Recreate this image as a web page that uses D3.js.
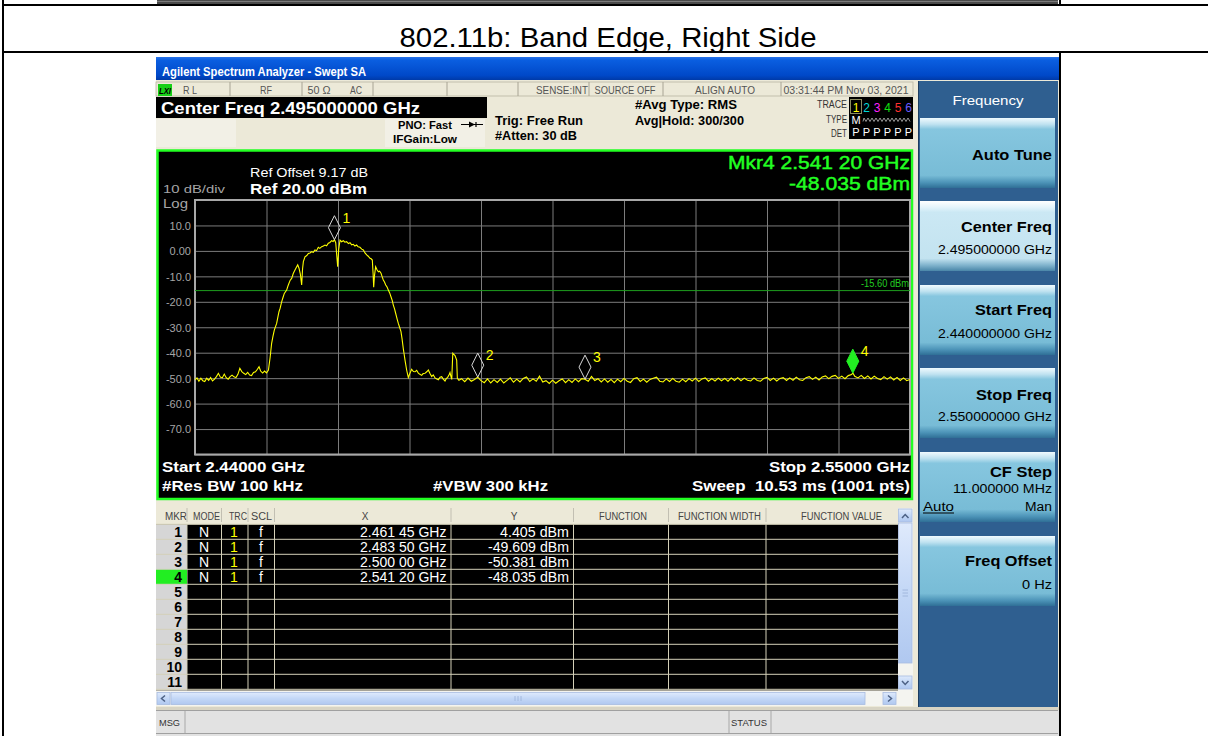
<!DOCTYPE html>
<html><head><meta charset="utf-8">
<script src="https://cdn.jsdelivr.net/npm/d3@7"></script>
<style>html,body{margin:0;padding:0;background:#fff;overflow:hidden}svg{display:block}text{white-space:pre}</style>
</head><body><svg id="c" width="1208" height="736"></svg>
<script>
// ---------------- DATA ----------------
const pageTitle = "802.11b: Band Edge, Right Side";
const windowTitle = "Agilent Spectrum Analyzer - Swept SA";
const centerFreqText = "Center Freq 2.495000000 GHz";
const freqStartMHz = 2440, freqStopMHz = 2550, freqDivMHz = 11;
const refLevel = 20, bottomLevel = -80, dbPerDiv = 10;
const yTickValues = [10, 0, -10, -20, -30, -40, -50, -60, -70];
const yTickLabels = ["10.0", "0.00", "-10.0", "-20.0", "-30.0", "-40.0", "-50.0", "-60.0", "-70.0"];
const displayLine = -15.60;
const displayLineLabel = "-15.60 dBm";
const markerIds = [1, 2, 3, 4];
const markerFreqMHz = [2461.45, 2483.50, 2500.00, 2541.20];
const markerLevel = [4.405, -49.609, -50.381, -48.035];
const markerXLabels = ["2.461 45 GHz", "2.483 50 GHz", "2.500 00 GHz", "2.541 20 GHz"];
const markerYLabels = ["4.405 dBm", "-49.609 dBm", "-50.381 dBm", "-48.035 dBm"];
const activeMarker = 4;
const tableRows = [1,2,3,4,5,6,7,8,9,10,11];
const tableHeaders = ["MKR","MODE","TRC","SCL","X","Y","FUNCTION","FUNCTION WIDTH","FUNCTION VALUE"];
const statusCells = ["R L","RF","50 Ω","AC","SENSE:INT","SOURCE OFF","ALIGN AUTO","03:31:44 PM Nov 03, 2021"];
const traceDigits = ["1","2","3","4","5","6"];
const softkeyLabels = ["Auto Tune","Center Freq","Start Freq","Stop Freq","CF Step","Freq Offset"];
const softkeyValues = ["", "2.495000000 GHz", "2.440000000 GHz", "2.550000000 GHz", "11.000000 MHz", "0 Hz"];
// trace 1: [frequency MHz, level dBm]
const trace = [
[2440.0,-50.7],[2440.3,-49.9],[2440.6,-51.2],[2440.9,-50.0],[2441.2,-51.0],[2441.5,-51.3],[2441.8,-50.0],[2442.1,-50.9],[2442.4,-49.8],[2442.7,-51.1],
[2443.0,-50.4],[2443.3,-49.4],[2443.6,-48.1],[2443.9,-49.6],[2444.2,-49.9],[2444.5,-48.4],[2444.8,-49.8],[2445.1,-50.4],[2445.4,-49.4],[2445.7,-48.8],
[2446.0,-49.5],[2446.3,-49.8],[2446.6,-48.5],[2446.9,-46.1],[2447.2,-47.4],[2447.5,-48.1],[2447.8,-48.6],[2448.1,-47.7],[2448.4,-48.8],[2448.7,-49.0],
[2449.0,-47.8],[2449.3,-47.5],[2449.6,-46.5],[2449.85,-45.5],[2450.1,-47.2],[2450.4,-48.0],[2450.7,-47.2],[2451.0,-47.9],[2451.3,-46.8],[2451.55,-42.0],
[2451.79,-36.3],[2452.0,-33.5],[2452.2,-31.1],[2452.56,-28.5],[2452.75,-26.0],[2452.92,-23.9],[2453.1,-22.5],[2453.33,-20.0],[2453.55,-18.2],[2453.74,-16.7],
[2454.1,-15.4],[2454.3,-13.8],[2454.46,-12.7],[2454.65,-11.5],[2454.87,-10.8],[2455.13,-8.8],[2455.38,-7.5],[2455.6,-6.4],[2455.8,-5.5],[2456.0,-6.8],
[2456.2,-9.0],[2456.41,-13.4],[2456.55,-7.0],[2456.67,-4.2],[2456.92,-2.3],[2457.2,-1.8],[2457.44,-1.0],[2457.7,-0.8],[2457.95,-0.3],[2458.2,-0.6],
[2458.46,0.35],[2458.7,0.1],[2458.97,1.4],[2459.2,1.0],[2459.49,1.65],[2459.75,1.9],[2460.0,2.3],[2460.25,2.0],[2460.51,3.0],[2460.75,3.3],
[2461.03,4.0],[2461.25,3.7],[2461.45,4.4],[2461.65,3.2],[2461.8,-1.5],[2461.95,-6.2],[2462.1,0.5],[2462.31,4.2],[2462.55,3.6],[2462.82,4.0],
[2463.05,3.4],[2463.33,3.6],[2463.6,2.9],[2463.85,3.2],[2464.1,2.4],[2464.36,2.6],[2464.6,1.9],[2464.87,2.3],[2465.1,1.6],[2465.38,1.4],
[2465.65,0.7],[2465.9,0.35],[2466.15,-0.8],[2466.41,-1.6],[2466.65,-2.1],[2466.92,-2.9],[2467.1,-3.1],[2467.28,-3.6],[2467.4,-9.0],[2467.49,-14.3],
[2467.6,-10.0],[2467.79,-6.2],[2468.0,-7.4],[2468.21,-8.2],[2468.4,-8.0],[2468.62,-8.8],[2468.8,-10.2],[2468.97,-11.4],[2469.15,-12.2],[2469.34,-13.4],
[2469.55,-14.2],[2469.74,-15.4],[2469.95,-16.5],[2470.15,-18.0],[2470.35,-19.5],[2470.51,-21.3],[2470.7,-22.8],[2470.87,-24.5],[2471.1,-26.8],[2471.28,-28.5],
[2471.5,-30.2],[2471.69,-31.7],[2471.85,-34.5],[2472.05,-38.5],[2472.2,-41.0],[2472.31,-42.9],[2472.56,-46.8],[2472.82,-49.8],[2473.05,-48.2],[2473.33,-46.5],
[2473.6,-47.4],[2473.85,-47.5],[2474.1,-46.9],[2474.36,-48.0],[2474.6,-48.5],[2474.87,-48.9],[2475.1,-48.2],[2475.38,-48.1],[2475.65,-47.5],[2475.9,-46.8],
[2476.15,-48.2],[2476.41,-49.4],[2476.65,-48.7],[2476.92,-49.9],[2477.2,-50.3],[2477.44,-50.6],[2477.7,-49.6],[2477.95,-49.4],[2478.2,-50.4],[2478.46,-51.1],
[2478.65,-50.2],[2478.87,-49.7],[2479.05,-48.9],[2479.23,-47.8],[2479.4,-49.6],[2479.5,-50.5],[2479.6,-44.0],[2479.66,-40.2],[2480.0,-41.1],[2480.26,-42.9],
[2480.36,-50.1],[2480.6,-50.8],[2481.0,-50.2],[2481.5,-51.4],[2482.0,-50.0],[2482.5,-51.2],[2483.0,-50.5],[2483.5,-49.6],[2484.0,-51.0],[2484.5,-51.8],
[2485.0,-50.3],[2485.5,-51.9],[2486.0,-50.6],[2486.5,-51.7],[2487.0,-50.4],[2487.5,-51.9],[2488.0,-50.9],[2488.5,-49.9],[2489.0,-51.6],[2489.5,-50.4],
[2490.0,-51.5],[2490.5,-50.1],[2491.0,-49.5],[2491.5,-51.3],[2492.0,-50.3],[2492.5,-51.2],[2493.0,-49.2],[2493.5,-51.5],[2494.0,-51.0],[2494.5,-52.1],
[2495.0,-50.8],[2495.5,-52.0],[2496.0,-51.0],[2496.5,-50.3],[2497.0,-51.8],[2497.5,-50.6],[2498.0,-51.7],[2498.5,-50.3],[2499.0,-51.4],[2499.5,-50.2],
[2500.0,-50.4],[2500.5,-51.2],[2501.0,-49.3],[2501.5,-50.9],[2502.0,-50.2],[2502.5,-51.5],[2503.0,-50.3],[2503.5,-51.6],[2504.0,-50.5],[2504.5,-51.8],
[2505.0,-50.4],[2505.5,-51.4],[2506.0,-50.1],[2506.5,-51.2],[2507.0,-51.7],[2507.5,-50.2],[2508.0,-49.8],[2508.5,-51.3],[2509.0,-50.4],[2509.5,-51.6],
[2510.0,-50.5],[2510.5,-50.0],[2511.0,-49.6],[2511.5,-51.2],[2512.0,-51.5],[2512.5,-50.3],[2513.0,-51.3],[2513.5,-50.1],[2514.0,-51.2],[2514.5,-51.6],
[2515.0,-50.4],[2515.5,-51.4],[2516.0,-50.2],[2516.5,-51.1],[2517.0,-50.0],[2517.5,-51.3],[2518.0,-50.3],[2518.5,-49.9],[2519.0,-51.2],[2519.5,-50.2],
[2520.0,-51.1],[2520.5,-50.0],[2521.0,-51.0],[2521.5,-50.1],[2522.0,-51.2],[2522.5,-49.9],[2523.0,-50.9],[2523.5,-49.8],[2524.0,-51.0],[2524.5,-50.0],
[2525.0,-50.8],[2525.5,-51.1],[2526.0,-49.9],[2526.5,-50.9],[2527.0,-51.2],[2527.5,-50.1],[2528.0,-49.7],[2528.5,-50.9],[2529.0,-50.0],[2529.5,-51.1],
[2530.0,-50.1],[2530.5,-49.8],[2531.0,-50.9],[2531.5,-49.9],[2532.0,-50.8],[2532.5,-49.6],[2533.0,-50.6],[2533.5,-50.9],[2534.0,-49.8],[2534.5,-49.4],
[2535.0,-50.5],[2535.5,-49.6],[2536.0,-50.7],[2536.5,-49.5],[2537.0,-49.1],[2537.5,-50.2],[2538.0,-49.3],[2538.5,-48.9],[2539.0,-50.1],[2539.5,-49.2],
[2540.0,-50.2],[2540.5,-49.0],[2541.0,-48.6],[2541.2,-48.0],[2541.5,-49.3],[2542.0,-49.9],[2542.5,-48.9],[2543.0,-50.1],[2543.5,-49.1],[2544.0,-50.3],
[2544.5,-49.2],[2545.0,-50.1],[2545.5,-50.6],[2546.0,-49.4],[2546.5,-50.4],[2547.0,-49.5],[2547.5,-50.7],[2548.0,-49.7],[2548.5,-50.9],[2549.0,-49.9],
[2549.5,-51.0],[2550.0,-50.5]
];

// ---------------- DRAW ----------------
const F = "'Liberation Sans', Arial, sans-serif";
const svg = d3.select("#c");
function txt(g, x, y, s, o = {}) {
  const t = g.append("text").attr("x", x).attr("y", y).text(s)
    .attr("font-family", o.font || F).attr("font-size", o.size || 12)
    .attr("fill", o.fill || "#000").attr("font-weight", o.weight || "normal")
    .attr("text-anchor", o.anchor || "start");
  if (o.w) t.attr("textLength", o.w).attr("lengthAdjust", "spacingAndGlyphs");
  if (o.style) t.attr("font-style", o.style);
  if (o.stroke) t.attr("stroke", o.fill).attr("stroke-width", o.stroke);
  return t;
}
function rect(g, x, y, w, h, fill, stroke, sw) {
  const r = g.append("rect").attr("x", x).attr("y", y).attr("width", w).attr("height", h).attr("fill", fill || "none");
  if (stroke) r.attr("stroke", stroke).attr("stroke-width", sw || 1);
  return r;
}
function line(g, x1, y1, x2, y2, c, w) {
  return g.append("line").attr("x1", x1).attr("y1", y1).attr("x2", x2).attr("y2", y2).attr("stroke", c).attr("stroke-width", w || 1);
}
const defs = svg.append("defs");
function grad(id, stops) {
  const lg = defs.append("linearGradient").attr("id", id).attr("x1", 0).attr("y1", 0).attr("x2", 0).attr("y2", 1);
  stops.forEach(s => lg.append("stop").attr("offset", s[0]).attr("stop-color", s[1]));
}
grad("titleG", [[0, "#2a73e8"], [0.15, "#0a5ee0"], [0.8, "#0048c8"], [1, "#003aa8"]]);
grad("btnG", [[0, "#f0fafe"], [0.09, "#bfe2f0"], [0.16, "#86c6df"], [0.82, "#78bcd6"], [0.92, "#4d94b8"], [1, "#2f6f96"]]);
grad("btnSel", [[0, "#ffffff"], [0.09, "#e4f4fb"], [0.16, "#cbe8f4"], [0.82, "#c3e3f0"], [0.92, "#7fb2cc"], [1, "#4a86a8"]]);
grad("sbG", [[0, "#dfeafc"], [0.5, "#c3d7f6"], [1, "#b0c8f0"]]);

const page = svg.append("g");
rect(page, 0, 0, 1208, 736, "#fff");
// previous screenshot bottom edge
rect(page, 157, 0, 901, 4, "#4a4a4a");
line(page, 157, 1.5, 1058, 1.5, "#7a7a7a", 1);
// table borders
rect(page, 3, 4, 1205, 2, "#000");
rect(page, 3, 51, 1205, 2, "#000");
rect(page, 2, 0, 2, 736, "#000");
rect(page, 1059, 0, 2, 5, "#000");
rect(page, 1059, 52, 2, 684, "#000");
txt(page, 608, 46.5, pageTitle, { size: 27, anchor: "middle", w: 417, fill: "#000" });

// ---- screenshot window ----
const win = svg.append("g");
rect(win, 156, 57, 903, 679, "#ece9d8");
rect(win, 156, 57, 903, 23, "url(#titleG)");
txt(win, 162, 76, windowTitle, { size: 12, weight: "bold", fill: "#fff", w: 204 });

// status row
rect(win, 156, 82, 757, 14, "#ece9d8", "#b8b4a4", 0.8);
rect(win, 158, 84, 14, 12, "#18d018");
txt(win, 159, 94, "LXI", { size: 9, weight: "bold", style: "italic", fill: "#000", w: 12 });
const statusX = [183, 266, 319, 356, 562, 625, 725, 846];
const statusAnchor = ["start", "middle", "middle", "middle", "middle", "middle", "middle", "middle"];
const statusW = [14, 12, 23, 12, 52, 61, 60, 125];
statusCells.forEach((s, i) => txt(win, statusX[i], 94, s, { size: 10, fill: "#555", anchor: statusAnchor[i], w: statusW[i] }));
[230, 302, 373, 447, 518, 589, 663, 781].forEach(x => line(win, x, 82, x, 96, "#a8a494", 1));

// center freq box
rect(win, 156, 97, 331, 21, "#000");
txt(win, 161, 114, centerFreqText, { size: 17, weight: "bold", fill: "#fff", w: 259 });
rect(win, 156, 119, 80, 28, "#f2f0e6");
rect(win, 385, 119, 100, 28, "#f2f0e6");
txt(win, 398, 129, "PNO: Fast", { size: 11.5, weight: "bold", w: 54 });
txt(win, 393, 142.5, "IFGain:Low", { size: 11.5, weight: "bold", w: 64 });
line(win, 461, 124.5, 483, 124.5, "#000", 1);
win.append("path").attr("d", "M469,121.5 L475,124.5 L469,127.5 Z").attr("fill", "#000");
line(win, 476, 122, 476, 127, "#000", 1.2);
txt(win, 495, 124.5, "Trig: Free Run", { size: 12, weight: "bold", w: 88 });
txt(win, 495, 140, "#Atten: 30 dB", { size: 12, weight: "bold", w: 82 });
txt(win, 635, 109, "#Avg Type: RMS", { size: 12, weight: "bold", w: 102 });
txt(win, 635, 124.5, "Avg|Hold: 300/300", { size: 12, weight: "bold", w: 109 });
txt(win, 847, 107.5, "TRACE", { size: 10, fill: "#333", anchor: "end", w: 30 });
txt(win, 847, 123, "TYPE", { size: 10, fill: "#333", anchor: "end", w: 21 });
txt(win, 847, 136.5, "DET", { size: 10, fill: "#333", anchor: "end", w: 16 });
rect(win, 849, 97, 64, 42, "#000");
const digitColors = ["#ffff00", "#00d8d8", "#ff20ff", "#10e010", "#ff3030", "#6a5cff"];
const digitX = [856, 866.5, 877, 887.5, 898, 908.5];
rect(win, 850.5, 99.5, 11, 14, "none", "#8a8a60", 1);
traceDigits.forEach((d, i) => txt(win, digitX[i], 111.5, d, { size: 12, fill: digitColors[i], anchor: "middle" }));
txt(win, 856, 124, "M", { size: 11, fill: "#fff", anchor: "middle" });
let zz = "M863,121.5";
for (let k = 0; k < 24; k++) zz += " L" + (864 + k * 2) + "," + (k % 2 ? 121.5 : 118);
win.append("path").attr("d", zz).attr("fill", "none").attr("stroke", "#bbb").attr("stroke-width", 0.8);
traceDigits.forEach((d, i) => txt(win, digitX[i], 135.5, "P", { size: 11, fill: "#fff", anchor: "middle" }));

// ---- plot panel ----
const plot = svg.append("g");
rect(plot, 157.5, 150.5, 754.5, 348.5, "#000", "#22ff22", 2.5);
const x = d3.scaleLinear().domain([freqStartMHz, freqStopMHz]).range([195, 910]);
const y = d3.scaleLinear().domain([bottomLevel, refLevel]).range([454.5, 200]);
const xTicks = d3.range(freqStartMHz, freqStopMHz + 0.01, freqDivMHz);
const yTicks = d3.range(bottomLevel, refLevel + 0.01, dbPerDiv);
const grid = plot.append("g");
grid.append("g").attr("transform", "translate(0,454.5)")
  .call(d3.axisBottom(x).tickValues(xTicks).tickSize(-254.5).tickFormat(""))
  .call(g => g.select(".domain").remove())
  .call(g => g.selectAll("line").attr("stroke", "#7c7c7c").attr("stroke-width", 1));
grid.append("g").attr("transform", "translate(195,0)")
  .call(d3.axisLeft(y).tickValues(yTicks).tickSize(-715).tickFormat(""))
  .call(g => g.select(".domain").remove())
  .call(g => g.selectAll("line").attr("stroke", "#7c7c7c").attr("stroke-width", 1));
rect(plot, x(freqStartMHz), y(refLevel), x(freqStopMHz) - x(freqStartMHz), y(bottomLevel) - y(refLevel), "none", "#a8a8a8", 2);
// y labels
plot.append("g").attr("transform", "translate(191,0)")
  .call(d3.axisLeft(y).tickValues(yTickValues).tickSize(0).tickPadding(0).tickFormat((d, i) => yTickLabels[i]))
  .call(g => g.select(".domain").remove())
  .call(g => g.selectAll("text").attr("fill", "#a6a6a6").attr("font-family", F).attr("font-size", 11).attr("dy", "0.35em"));
txt(plot, 163, 193, "10 dB/div", { size: 11.5, fill: "#a6a6a6", w: 62 });
txt(plot, 163, 207.5, "Log", { size: 12, fill: "#a6a6a6", w: 25 });
txt(plot, 250, 177, "Ref Offset 9.17 dB", { size: 12.5, fill: "#fff", w: 118 });
txt(plot, 250, 193.5, "Ref 20.00 dBm", { size: 14.5, weight: "bold", fill: "#fff", w: 117 });
const mi = markerIds.indexOf(activeMarker);
txt(plot, 910, 169, "Mkr" + activeMarker + " " + markerXLabels[mi], { size: 18, fill: "#22ff22", anchor: "end", w: 182, stroke: 0.45 });
txt(plot, 910, 189.5, markerYLabels[mi], { size: 18, fill: "#22ff22", anchor: "end", w: 121, stroke: 0.45 });

// display line
line(plot, 195, y(displayLine), 910, y(displayLine), "#1e9e1e", 1);
txt(plot, 909, y(displayLine) - 3.5, displayLineLabel, { size: 10, fill: "#22cc22", anchor: "end", w: 48 });

// trace
plot.append("clipPath").attr("id", "clipP").append("rect").attr("x", 195).attr("y", 200).attr("width", 715).attr("height", 254.5);
plot.append("path").datum(trace).attr("clip-path", "url(#clipP)")
  .attr("d", d3.line().x(d => x(d[0])).y(d => y(d[1])))
  .attr("fill", "none").attr("stroke", "#ffff00").attr("stroke-width", 1.1).attr("stroke-linejoin", "miter");

// markers
markerIds.forEach((m, i) => {
  const mx = x(markerFreqMHz[i]), my = y(markerLevel[i]);
  const act = m === activeMarker;
  plot.append("path").attr("d", `M${mx},${my} L${mx - 6},${my - 12} L${mx},${my - 24} L${mx + 6},${my - 12} Z`)
    .attr("fill", act ? "#22ee22" : "none").attr("stroke", act ? "#22ee22" : "#d8d8d8").attr("stroke-width", 1);
  txt(plot, mx + 8, my - 17, String(m), { size: 14, fill: "#ffff00" });
});

// bottom annotations
txt(plot, 162, 471.5, "Start 2.44000 GHz", { size: 14, weight: "bold", fill: "#fff", w: 143 });
txt(plot, 162, 491, "#Res BW 100 kHz", { size: 14, weight: "bold", fill: "#fff", w: 141 });
txt(plot, 433, 491, "#VBW 300 kHz", { size: 14, weight: "bold", fill: "#fff", w: 115 });
txt(plot, 910, 471.5, "Stop 2.55000 GHz", { size: 14, weight: "bold", fill: "#fff", anchor: "end", w: 141 });
txt(plot, 910, 491, "Sweep  10.53 ms (1001 pts)", { size: 14, weight: "bold", fill: "#fff", anchor: "end", w: 218 });

// ---- marker table ----
const tb = svg.append("g");
const colEdges = [156, 187, 221.5, 248, 274.5, 451, 573.5, 668.5, 766, 898];
const rowTop = 524.3, rowH = 15;
rect(tb, 156, 507, 757, 17, "#ece9d8");
rect(tb, 156, rowTop, 742, rowH * tableRows.length + 1, "#000");
rect(tb, 156, rowTop, 31, rowH * tableRows.length + 1, "#d6d6d6");
const headerX = [176, 206.5, 238, 261.5, 365, 514, 623, 719.5, 841.5];
const headerW = [22, 27, 18, 21, 0, 0, 48, 83, 81];
tableHeaders.forEach((h, i) => txt(tb, headerX[i], 520, h, { size: 10, fill: "#444", anchor: "middle", w: headerW[i] || undefined }));
colEdges.slice(1, -1).forEach(cx => { line(tb, cx, 508, cx, 522, "#c2bfb2", 1); line(tb, cx, rowTop, cx, rowTop + rowH * tableRows.length, "#d4d0b8", 1); });
tableRows.forEach((r, i) => {
  const ty = rowTop + rowH * (i + 1);
  line(tb, 156, ty, 898, ty, "#d4d0b8", 1);
  if (r === activeMarker) rect(tb, 156, ty - rowH + 0.5, 31, rowH - 1, "#22ee22");
  txt(tb, 182, ty - 2.5, String(r), { size: 14, weight: "bold", fill: "#000", anchor: "end" });
});
line(tb, 156, rowTop, 898, rowTop, "#d4d0b8", 1);
markerIds.forEach((m, i) => {
  const by = rowTop + rowH * (i + 1) - 2.5;
  txt(tb, 204, by, "N", { size: 14, fill: "#fff", anchor: "middle" });
  txt(tb, 234, by, "1", { size: 14, fill: "#ffff00", anchor: "middle" });
  txt(tb, 261, by, "f", { size: 14, fill: "#fff", anchor: "middle" });
  txt(tb, 446.5, by, markerXLabels[i], { size: 14, fill: "#fff", anchor: "end", w: 86.5 });
  txt(tb, 569, by, markerYLabels[i], { size: 14, fill: "#fff", anchor: "end", w: markerYLabels[i].length === 9 ? 69 : 81 });
});
// vertical scrollbar
rect(tb, 898, 508, 15, 183, "#f4f4f0");
rect(tb, 898.5, 509, 13.5, 13, "url(#sbG)", "#a8bce0", 0.8);
rect(tb, 898.5, 523, 13.5, 140, "url(#sbG)", "#a8bce0", 0.8);
rect(tb, 898.5, 676, 13.5, 13, "url(#sbG)", "#a8bce0", 0.8);
tb.append("path").attr("d", "M902,518 L905.2,514.5 L908.5,518").attr("fill", "none").attr("stroke", "#4d6185").attr("stroke-width", 1.5);
tb.append("path").attr("d", "M902,681 L905.2,684.5 L908.5,681").attr("fill", "none").attr("stroke", "#4d6185").attr("stroke-width", 1.5);
[590, 593, 596].forEach(yy => line(tb, 902.5, yy, 908, yy, "#9ab0d8", 0.8));
// horizontal scrollbar
rect(tb, 156, 691, 757, 15, "#f4f4f0");
rect(tb, 157, 692.5, 13, 12, "url(#sbG)", "#a8bce0", 0.8);
rect(tb, 171, 692.5, 694, 12, "url(#sbG)", "#a8bce0", 0.8);
rect(tb, 883, 692.5, 13, 12, "url(#sbG)", "#a8bce0", 0.8);
tb.append("path").attr("d", "M165,695.5 L161.5,698.5 L165,701.5").attr("fill", "none").attr("stroke", "#4d6185").attr("stroke-width", 1.5);
tb.append("path").attr("d", "M888,695.5 L891.5,698.5 L888,701.5").attr("fill", "none").attr("stroke", "#4d6185").attr("stroke-width", 1.5);
[515, 518, 521].forEach(xx => line(tb, xx, 696, xx, 701, "#9ab0d8", 0.8));

// ---- right softkey panel ----
const pn = svg.append("g");
rect(pn, 919, 81, 139, 626, "#2f5f90");
line(pn, 918.5, 81, 918.5, 707, "#1c3c60", 1);
txt(pn, 988, 104.5, "Frequency", { size: 13, fill: "#fff", anchor: "middle", w: 71 });
const btnTop = [118, 201, 285, 368, 452, 536];
const btnH = 70;
const labelDy = [42, 30.5, 30, 31.5, 25, 30];
const labelW = [80, 91, 77, 76, 62, 87];
const valueDy = [0, 53, 52.5, 53, 40.5, 52.5];
const valueW = [0, 114, 114, 114, 99, 30];
softkeyLabels.forEach((s, i) => {
  const by = btnTop[i];
  rect(pn, 920, by, 135, btnH, i === 1 ? "url(#btnSel)" : "url(#btnG)");
  txt(pn, 1052, by + labelDy[i], s, { size: 15, weight: "bold", fill: "#000", anchor: "end", w: labelW[i] });
  if (softkeyValues[i]) txt(pn, 1052, by + valueDy[i], softkeyValues[i], { size: 12.5, fill: "#000", anchor: "end", w: valueW[i] });
});
txt(pn, 923, 510.5, "Auto", { size: 12.5, fill: "#000", w: 31 });
line(pn, 923, 513, 954, 513, "#000", 1);
txt(pn, 1052, 510.5, "Man", { size: 12.5, fill: "#000", anchor: "end", w: 27 });

// ---- status bar ----
const sb = svg.append("g");
rect(sb, 156, 707, 903, 3, "#d8d4c4");
rect(sb, 156, 710, 903, 26, "#e2e2e2");
line(sb, 156, 710.5, 1058, 710.5, "#a0a0a0", 1);
line(sb, 156, 733.5, 1058, 733.5, "#a0a0a0", 1);
[185, 729, 771].forEach(xx => line(sb, xx, 711, xx, 733, "#a8a8a8", 1));
txt(sb, 159, 726, "MSG", { size: 9.5, fill: "#333", w: 21 });
txt(sb, 731, 726, "STATUS", { size: 9.5, fill: "#333", w: 36 });
</script></body></html>
